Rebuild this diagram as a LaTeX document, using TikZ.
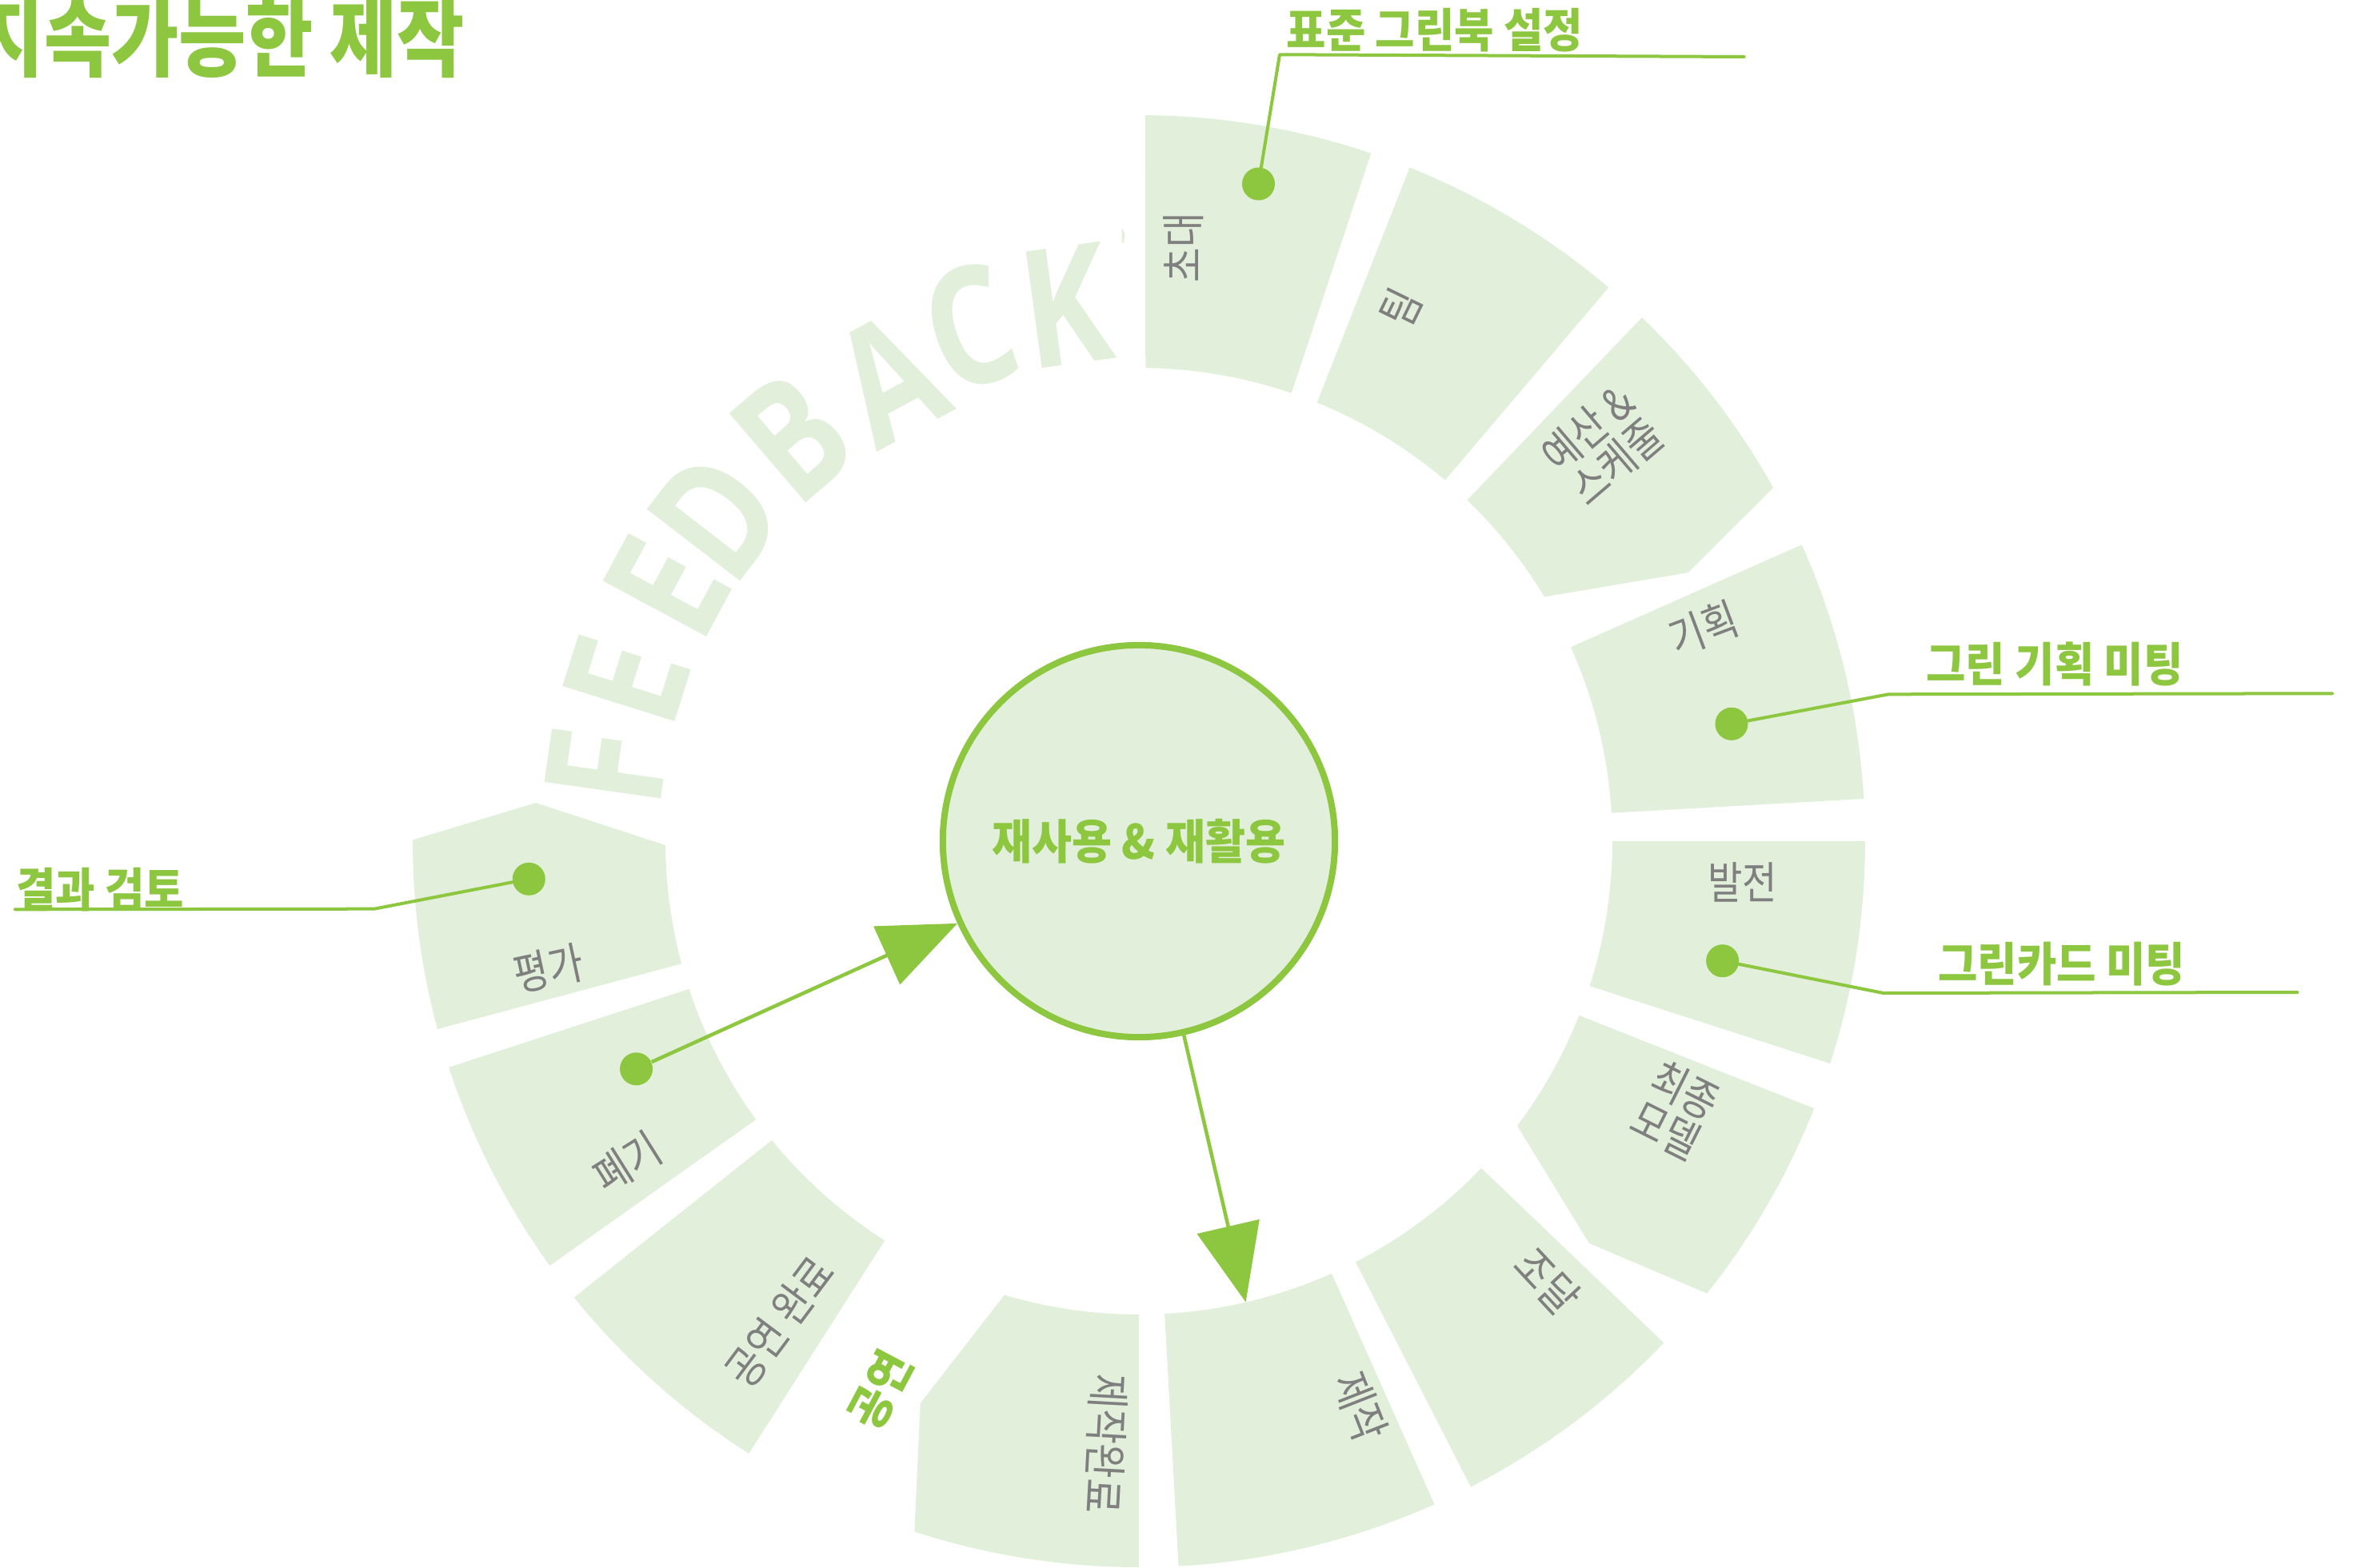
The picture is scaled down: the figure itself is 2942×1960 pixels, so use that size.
\documentclass[tikz,border=0pt]{standalone}
\usepackage{fontspec}
\usetikzlibrary{arrows.meta}
\newfontfamily\kr{Noto Sans CJK KR}[FakeStretch=0.85]
\newfontfamily\krc{Noto Sans CJK KR}[FakeStretch=0.92]
\newfontfamily\fbfont{Open Sans}[FakeStretch=0.8]
\definecolor{gr}{HTML}{8DC63F}
\definecolor{lg}{HTML}{E2EFDA}
\definecolor{tx}{HTML}{7F7F7F}
\newcommand{\fsz}[1]{\fontsize{#1pt}{#1pt}\selectfont}
% ring segment: outer start, outer end, inner start, inner end
\newcommand{\ringseg}[4]{\fill[lg] (#1:908) arc[start angle=#1, end angle=#2, radius=908] -- (#3:592) arc[start angle=#3, end angle=#4, radius=592] -- cycle;}
% notched ring segment: extra notch point
\newcommand{\ringsegn}[5]{\fill[lg] (#1:908) arc[start angle=#1, end angle=#2, radius=908] -- (#3:592) arc[start angle=#3, end angle=#4, radius=592] -- (#5) -- cycle;}
\begin{document}
\begin{tikzpicture}[x=0.01cm,y=0.01cm,
  lbl/.style={text=tx, font=\kr\fsz{15.8}, align=center, inner sep=0pt},
  call/.style={text=gr, font=\krc\bfseries\fsz{16.6}, inner sep=0pt},
  dot/.style={circle, fill=gr, minimum size=0.41cm, inner sep=0pt},
  cline/.style={draw=gr, line width=0.04cm, line cap=round, line join=round},
  fbl/.style={text=lg, font=\fbfont\bfseries\fsz{58.5}, inner sep=0pt},
  arr/.style={draw=gr, line width=0.045cm, -{Triangle[length=0.97cm, width=0.79cm]}}]
\fill[white] (-1424,-908) rectangle (1518,1052);
\useasboundingbox (-1424,-908) rectangle (1518,1052);

% FEEDBACK letters along the arc
\foreach \l/\a/\r [count=\i] in {F/172/672, E/162.6/672, E/151.7/670, D/142.4/667, B/130.6/666, A/118.4/658, C/108.2/677, K/97.8/676}
  \node[fbl, rotate=\a-90] (fb\i) at (\a:\r) {\l};
% small sliver of a further letter next to the first segment
\fill[lg] (-21.5,767.3) -- (-17.5,760) -- (-19,748.4) -- (-21.5,748.4) -- cycle;

% ring segments
\ringseg{71.36}{89.5}{89.2}{71.2}
\ringseg{49.7}{68.1}{67.9}{49.7}
\ringsegn{29.13}{46.16}{46.1}{31.08}{26.07:764.5}
\ringseg{3.35}{24.1}{24.2}{3.42}
\ringseg{-17.83}{0}{0}{-17.82}
\ringsegn{-38.53}{-21.6}{-21.6}{-36.96}{-41.77:755}
\ringseg{-62.8}{-43.71}{-43.69}{-62.76}
\ringseg{-86.87}{-65.99}{-65.97}{-86.88}
\ringsegn{-108.0}{-90}{-90}{-106.5}{-111.24:754.3}
\ringseg{-141.06}{-122.49}{-122.47}{-140.82}
\ringseg{-161.85}{-144.22}{-143.98}{-161.8}
\ringsegn{179.9}{195}{195}{180.5}{176.36:755.5}

% segment labels
\node[lbl, rotate=90] (l1) at (56,742) {초대};
\node[lbl, rotate=64] (l2) at (327,667) {팀};
\node[lbl, rotate=40.5] (l3) at (579.3,495.3) {예산 \&\\스케줄};
\node[lbl, rotate=20.6] (l4) at (706,266) {기획};
\node[lbl, rotate=0] (l5) at (754.7,-51.3) {발전};
\node[lbl, rotate=-26.6] (l6) at (671,-336.3) {최종\\모델};
\node[lbl, rotate=-47.1] (l7) at (511,-550.3) {조달};
\node[lbl, rotate=-68.6] (l8) at (276.9,-707.2) {제작};
\node[lbl, rotate=-93.1] (l9) at (-41.2,-753.8) {제작완료};
\node[lbl, rotate=53.2] (l10) at (-449.2,-600.9) {공연 완료};
\node[lbl, rotate=32.1] (l11) at (-640,-402) {폐기};
\node[lbl, rotate=12.2] (l12) at (-738,-159) {평가};

% callouts
\node[dot] (d1) at (149.5,822) {};
\coordinate (c1a) at (176,983.7);
\coordinate (c1b) at (756.6,981);
\draw[cline] (d1) -- (c1a) -- (c1b);
\node[call] (t1) at (370,1014) {표준 그린북 설정};

\node[dot] (d2) at (741,146.7) {};
\coordinate (c2a) at (937.2,183.7);
\coordinate (c2b) at (1492,184.7);
\draw[cline] (d2) -- (c2a) -- (c2b);
\node[call] (t2) at (1145,221) {그린 기획 미팅};

\node[dot] (d3) at (729.7,-149.7) {};
\coordinate (c3a) at (930.9,-190);
\coordinate (c3b) at (1448.4,-189);
\draw[cline] (d3) -- (c3a) -- (c3b);
\node[call] (t3) at (1153.6,-154) {그린카드 미팅};

\node[dot] (d4) at (-762.7,-47.3) {};
\coordinate (c4a) at (-956.1,-84.7);
\coordinate (c4b) at (-1405.1,-85.3);
\draw[cline] (d4) -- (c4a) -- (c4b);
\node[call] (t4) at (-1299,-60.5) {결과 검토};

% hub
\node[circle, draw=gr, fill=lg, line width=0.08cm, minimum size=4.9cm, inner sep=0pt,
      text=gr, font=\krc\bfseries\fsz{16.8}] (hub) at (0,0) {재사용 \& 재활용};

% arrows
\node[dot] (d5) at (-628.4,-284.8) {};
\draw[arr] (d5) -- (hub);
\coordinate (tip8) at (133.6,-576.5);
\draw[arr] (hub) -- (tip8);

% phase label and title
\node[call, rotate=62] (gy) at (-323.3,-686.3) {공연};
\node[text=gr, font=\kr\bfseries\fsz{30.6}, inner sep=0pt] (title) at (-1148,1004.5) {지속가능한 제작};
\end{tikzpicture}
\end{document}
